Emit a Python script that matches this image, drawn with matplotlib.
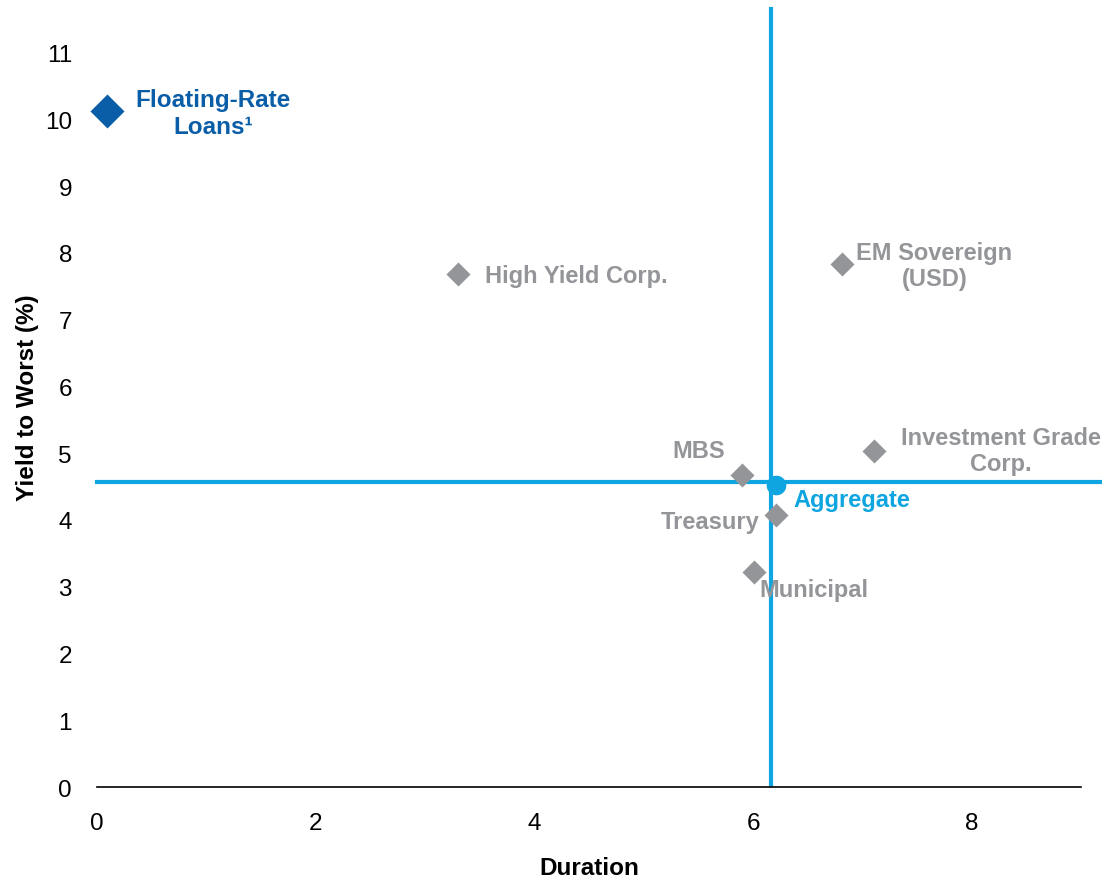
import matplotlib
matplotlib.use("Agg")
import matplotlib.pyplot as plt

plt.rcParams['font.family'] = ['Liberation Sans', 'DejaVu Sans']

# ------------------------------------------------------------
# Data (duration, yield to worst %)
# ------------------------------------------------------------
sector_names = ["High Yield Corp.", "EM Sovereign\n(USD)", "Investment Grade\nCorp.",
                "MBS", "Treasury", "Municipal"]
sector_duration = [3.30, 6.81, 7.11, 5.90, 6.21, 6.01]
sector_ytw = [7.69, 7.83, 5.04, 4.67, 4.07, 3.22]

loans_name = "Floating-Rate\nLoans\u00b9"
loans_duration = [0.09]
loans_ytw = [10.12]

agg_name = "Aggregate"
agg_duration = [6.21]
agg_ytw = [4.52]

# label anchors (data coords) and alignment for each gray label
label_x = [3.55, 7.66, 8.27, 5.50, 6.06, 6.06]
label_y = [7.66, 7.81, 5.04, 5.04, 3.98, 2.96]
label_ha = ["left", "center", "center", "center", "right", "left"]

x_ticks = [0, 2, 4, 6, 8]
y_ticks = list(range(0, 12))

GRAY = "#939598"
DARK_BLUE = "#0a5ea8"
LIGHT_BLUE = "#0ea5e0"

fig = plt.figure(figsize=(11.02, 8.78), dpi=100)
ax = fig.add_axes([0.088, 0.1025, 0.893, 0.888])

# crosshair through the aggregate
ax.axvline(6.165, color=LIGHT_BLUE, lw=3, zorder=2)
ax.axhline(4.57, xmin=0, xmax=1.024, color=LIGHT_BLUE, lw=3, zorder=2, clip_on=False)

ax.scatter(sector_duration, sector_ytw, marker="D", s=150, color=GRAY, zorder=3,
           linewidths=0, clip_on=False)
ax.scatter(loans_duration, loans_ytw, marker="D", s=300, color=DARK_BLUE, zorder=3,
           linewidths=0, clip_on=False)
ax.scatter(agg_duration, agg_ytw, marker="o", s=200, color=LIGHT_BLUE, zorder=4,
           linewidths=0, clip_on=False)

for name, lx, ly, ha in zip(sector_names, label_x, label_y, label_ha):
    ax.text(lx, ly, name, ha=ha, va="center", fontsize=17, fontweight="bold",
            color=GRAY, linespacing=1.2, zorder=5)

ax.text(1.06, 10.1, loans_name, ha="center", va="center", fontsize=17.5,
        fontweight="bold", color=DARK_BLUE, linespacing=1.2)
ax.text(6.37, 4.30, agg_name, ha="left", va="center", fontsize=17,
        fontweight="bold", color=LIGHT_BLUE)

ax.set_xlim(0, 9.0)
ax.set_ylim(0, 11.68)
ax.set_xticks(x_ticks)
ax.set_yticks(y_ticks)
ax.tick_params(length=0, labelsize=17.5)
ax.tick_params(axis="x", pad=18)
ax.tick_params(axis="y", pad=18)

for side in ["top", "right", "left"]:
    ax.spines[side].set_visible(False)
ax.spines["bottom"].set_linewidth(1.2)

ax.set_xlabel("Duration", fontsize=17.5, fontweight="bold", labelpad=16)
ax.set_ylabel("Yield to Worst (%)", fontsize=17.5, fontweight="bold", labelpad=4)

plt.savefig("out.png", dpi=100)
